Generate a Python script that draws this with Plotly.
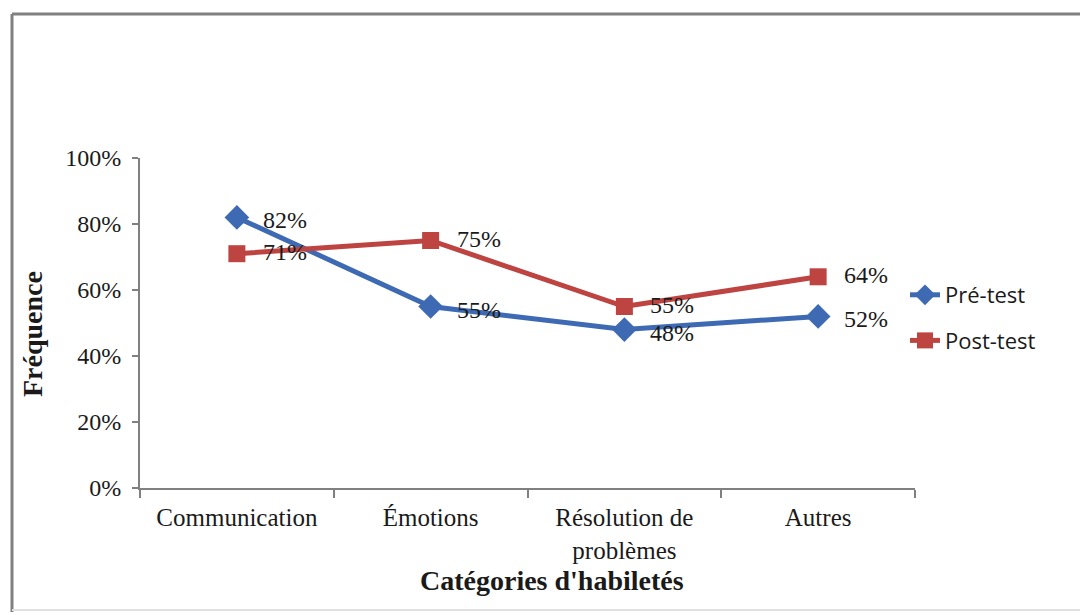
import plotly.graph_objects as go

categories = ["Communication", "Émotions", "Résolution de<br>problèmes", "Autres"]
pre_test = [82, 55, 48, 52]
post_test = [71, 75, 55, 64]
y_ticks = [0, 20, 40, 60, 80, 100]
y_tick_labels = [f"{v}%" for v in y_ticks]

BLUE = "#3D6AB2"
RED = "#BD4441"
SERIF = "Liberation Serif, Times New Roman, serif"
SANS = "Open Sans, Liberation Sans, sans-serif"

fig = go.Figure()
fig.add_trace(go.Scatter(
    x=categories, y=pre_test, name="Pré-test", mode="lines+markers",
    line=dict(color=BLUE, width=5), legendgroup="a",
    marker=dict(symbol="diamond", size=19, color=BLUE),
))
fig.add_trace(go.Scatter(
    x=categories, y=post_test, name="Post-test", mode="lines+markers",
    line=dict(color=RED, width=5), legendgroup="b",
    marker=dict(symbol="square", size=17, color=RED),
))

L, R, T, B = 140, 1080 - 915, 158, 615 - 488
W, H = 1080 - L - R, 615 - T - B

def px(x):
    return (x - L) / W

def py(y):
    return (615 - B - y) / H

annotations = []
for series, shift in ((pre_test, -3), (post_test, 2)):
    for c, v in zip(categories, series):
        annotations.append(dict(
            x=c, y=v, xref="x", yref="y", text=f"{v}%", showarrow=False,
            xanchor="left", yanchor="middle", xshift=24, yshift=shift,
            font=dict(family=SERIF, size=24, color="#1a1a1a"),
        ))

annotations += [
    dict(text="<b>Catégories d'habiletés</b>", xref="paper", yref="paper",
         x=px(552), y=py(580), xanchor="center", yanchor="middle",
         showarrow=False, font=dict(family=SERIF, size=28, color="#1a1a1a")),
    dict(text="<b>Fréquence</b>", xref="paper", yref="paper",
         x=px(32), y=py(334), xanchor="center", yanchor="middle",
         textangle=-90, showarrow=False,
         font=dict(family=SERIF, size=28, color="#1a1a1a")),
]

fig.update_layout(
    width=1080, height=615,
    margin=dict(l=L, r=R, t=T, b=B),
    paper_bgcolor="white", plot_bgcolor="white",
    showlegend=True,
    legend=dict(
        x=px(905), y=py(318), xanchor="left", yanchor="middle",
        font=dict(family=SANS, size=22, color="#1a1a1a"),
        bgcolor="rgba(0,0,0,0)", tracegroupgap=14,
    ),
    xaxis=dict(
        type="category", range=[-0.5, 3.5], tickson="boundaries",
        showline=True, linecolor="#808080", linewidth=2,
        ticks="outside", ticklen=8, tickcolor="#808080", tickwidth=1.5,
        showgrid=False, zeroline=False,
        tickfont=dict(family=SERIF, size=25, color="#1a1a1a"),
        ticklabelstandoff=6,
    ),
    yaxis=dict(
        range=[0, 100], tickvals=y_ticks, ticktext=y_tick_labels,
        showline=True, linecolor="#808080", linewidth=2,
        ticks="outside", ticklen=6, tickcolor="#808080", tickwidth=1.5,
        showgrid=False, zeroline=False,
        tickfont=dict(family=SERIF, size=24, color="#1a1a1a"),
        ticklabelstandoff=6,
    ),
    annotations=annotations,
    shapes=[
        dict(type="line", xref="paper", yref="paper", x0=px(12), x1=px(1085),
             y0=py(14), y1=py(14), line=dict(color="#808080", width=3)),
        dict(type="line", xref="paper", yref="paper", x0=px(12), x1=px(12),
             y0=py(14), y1=py(612), line=dict(color="#808080", width=3)),
        dict(type="line", xref="paper", yref="paper", x0=px(12), x1=px(1085),
             y0=py(610), y1=py(610), line=dict(color="#e0e0e0", width=2)),
    ],
)

fig.write_html("out.html")
